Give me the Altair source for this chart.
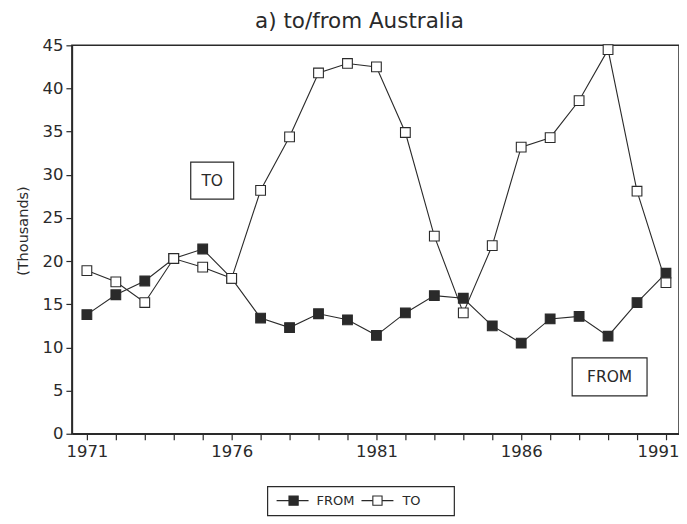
import altair as alt
import pandas as pd

# ---- data ----
years = list(range(1971, 1992))
to_values = [18.9, 17.6, 15.2, 20.3, 19.3, 18.0, 28.2, 34.4, 41.8, 42.9, 42.5,
             34.9, 22.9, 14.0, 21.8, 33.2, 34.3, 38.6, 44.5, 28.1, 17.5]
from_values = [13.8, 16.1, 17.7, 20.3, 21.4, 18.0, 13.4, 12.3, 13.9, 13.2, 11.4,
               14.0, 16.0, 15.7, 12.5, 10.5, 13.3, 13.6, 11.3, 15.2, 18.6]
series_names = ["FROM", "TO"]
title_text = ["a) to/from Australia"]
y_title = ["(Thousands)"]
y_ticks = list(range(0, 50, 5))

INK = "#2a2a2a"
FONT = "DejaVu Sans"

rows = []
for y, v in zip(years, from_values):
    rows.append({"year": y, "value": v, "series": "FROM"})
for y, v in zip(years, to_values):
    rows.append({"year": y, "value": v, "series": "TO"})
df = pd.DataFrame(rows)

last_year = years[-1]
x_enc = alt.X("year:Q",
              scale=alt.Scale(domain=[1970.483, 1991.45], nice=False, zero=False),
              axis=alt.Axis(values=years, format="d",
                            labelExpr="(datum.value - 1971) % 5 == 0 ? datum.label : ''",
                            tickSize=6, labelPadding=4, grid=False, title=None,
                            labelFlush=False, labelOverlap=False,
                            labelAlign={"condition": {"test": f"datum.value == {last_year}", "value": "right"},
                                        "value": "center"},
                            labelOffset={"condition": {"test": f"datum.value == {last_year}", "value": 13},
                                         "value": 0}))
y_enc = alt.Y("value:Q",
              scale=alt.Scale(domain=[0, 45], nice=False),
              axis=alt.Axis(values=y_ticks, tickSize=6, labelPadding=3,
                            grid=False, title=None))
fill_scale = alt.Scale(domain=series_names, range=[INK, "white"])

base = alt.Chart(df)
lines = base.mark_line(color=INK, strokeWidth=1.1).encode(
    x=x_enc, y=y_enc, detail="series:N")
points = base.mark_point(shape="square", size=95, stroke=INK, strokeWidth=1.1,
                         opacity=1, filled=False).encode(
    x=x_enc, y=y_enc,
    fill=alt.Fill("series:N", scale=fill_scale, legend=None))

one = lambda key, val: pd.DataFrame({key: [val]})

# title
title = alt.Chart(one("t", title_text[0])).mark_text(
    font=FONT, fontSize=21.5, color=INK, align="center", baseline="middle").encode(
    text="t:N", x=alt.value(288), y=alt.value(-23))

# y axis title
ytitle = alt.Chart(one("t", y_title[0])).mark_text(
    font=FONT, fontSize=14.5, color=INK, align="center", baseline="middle",
    angle=270).encode(text="t:N", x=alt.value(-48), y=alt.value(186))

# annotation boxes
to_box = alt.Chart(one("t", series_names[1])).mark_rect(
    fill="white", stroke=INK, strokeWidth=1.2).encode(
    x=alt.value(119), x2=alt.value(162), y=alt.value(117), y2=alt.value(154))
to_txt = alt.Chart(one("t", series_names[1])).mark_text(
    font=FONT, fontSize=15.5, color=INK, align="center", baseline="middle").encode(
    text="t:N", x=alt.value(140.5), y=alt.value(136))
from_box = alt.Chart(one("t", series_names[0])).mark_rect(
    fill="white", stroke=INK, strokeWidth=1.2).encode(
    x=alt.value(501), x2=alt.value(576), y=alt.value(313), y2=alt.value(351))
from_txt = alt.Chart(one("t", series_names[0])).mark_text(
    font=FONT, fontSize=15.5, color=INK, align="center", baseline="middle").encode(
    text="t:N", x=alt.value(538.5), y=alt.value(332))

# legend (drawn below the plot)
leg_box = alt.Chart(one("t", "legend")).mark_rect(
    fill="white", stroke=INK, strokeWidth=1.2).encode(
    x=alt.value(196), x2=alt.value(383), y=alt.value(442), y2=alt.value(471))
leg_line1 = alt.Chart(one("t", series_names[0])).mark_rule(
    color=INK, strokeWidth=1.2).encode(
    x=alt.value(205), x2=alt.value(237), y=alt.value(456))
leg_line2 = alt.Chart(one("t", series_names[1])).mark_rule(
    color=INK, strokeWidth=1.2).encode(
    x=alt.value(290), x2=alt.value(322), y=alt.value(456))
leg_sq = alt.Chart(pd.DataFrame({"series": series_names, "px": [222, 306]})).mark_point(
    shape="square", size=85, stroke=INK, strokeWidth=1.1, opacity=1, filled=False).encode(
    x=alt.X("px:Q", scale=None), y=alt.value(456),
    fill=alt.Fill("series:N", scale=fill_scale, legend=None))
leg_txt = alt.Chart(pd.DataFrame({"series": series_names, "px": [245, 331]})).mark_text(
    font=FONT, fontSize=13, color=INK, align="left", baseline="middle").encode(
    x=alt.X("px:Q", scale=None), y=alt.value(456), text="series:N")

chart = alt.layer(
    lines, points, title, ytitle, to_box, to_txt, from_box, from_txt,
    leg_box, leg_line1, leg_line2, leg_sq, leg_txt
).properties(
    width=608, height=389,
    autosize=alt.AutoSizeParams(type="none"),
    padding={"left": 64, "top": 37, "right": 0, "bottom": 84},
).configure_view(
    stroke=INK, strokeWidth=1.5
).configure_axis(
    domainColor=INK, domainWidth=1.5, tickColor=INK, tickWidth=1.2,
    labelColor=INK, labelFont=FONT, labelFontSize=16.5
).resolve_scale(fill="shared")

chart.save("out.html", embed_options={"renderer": "svg", "actions": False})
